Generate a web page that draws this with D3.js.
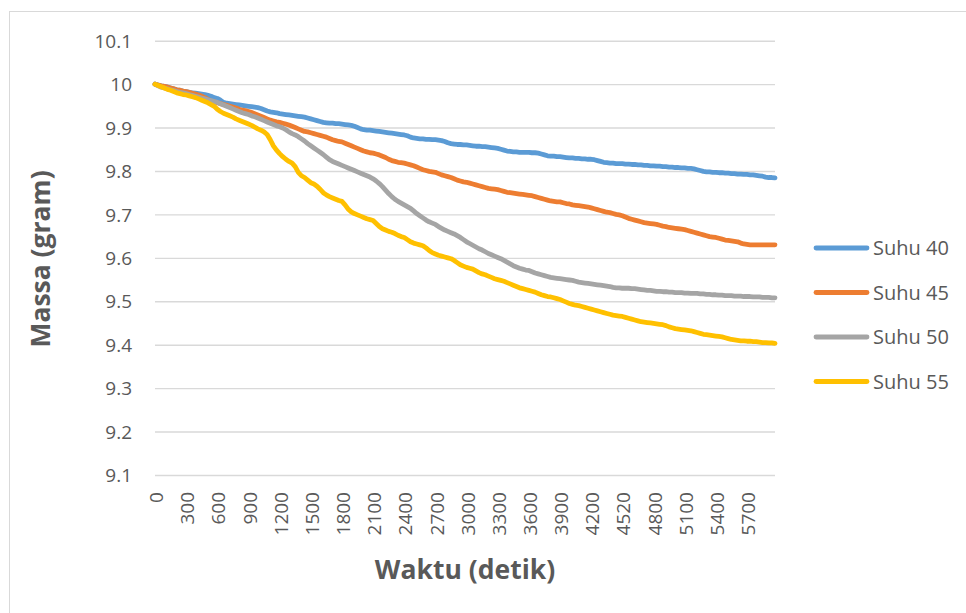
<!DOCTYPE html>
<html><head><meta charset="utf-8">
<script src="https://cdn.jsdelivr.net/npm/d3@7/dist/d3.min.js"></script>
<style>html,body{margin:0;padding:0;background:#fff;}svg{display:block;}</style>
</head><body>
<svg id="c" width="966" height="613"></svg>
<script>
// Time categories (seconds) — 30 s steps; index 150 labelled 4520 in source
const waktu = [
0,30,60,90,120,150,180,210,240,270,
300,330,360,390,420,450,480,510,540,570,
600,630,660,690,720,750,780,810,840,870,
900,930,960,990,1020,1050,1080,1110,1140,1170,
1200,1230,1260,1290,1320,1350,1380,1410,1440,1470,
1500,1530,1560,1590,1620,1650,1680,1710,1740,1770,
1800,1830,1860,1890,1920,1950,1980,2010,2040,2070,
2100,2130,2160,2190,2220,2250,2280,2310,2340,2370,
2400,2430,2460,2490,2520,2550,2580,2610,2640,2670,
2700,2730,2760,2790,2820,2850,2880,2910,2940,2970,
3000,3030,3060,3090,3120,3150,3180,3210,3240,3270,
3300,3330,3360,3390,3420,3450,3480,3510,3540,3570,
3600,3630,3660,3690,3720,3750,3780,3810,3840,3870,
3900,3930,3960,3990,4020,4050,4080,4110,4140,4170,
4200,4230,4260,4290,4320,4350,4380,4410,4440,4470,
4520,4530,4560,4590,4620,4650,4680,4710,4740,4770,
4800,4830,4860,4890,4920,4950,4980,5010,5040,5070,
5100,5130,5160,5190,5220,5250,5280,5310,5340,5370,
5400,5430,5460,5490,5520,5550,5580,5610,5640,5670,
5700,5730,5760,5790,5820,5850,5880,5910,5940,5970
];
const suhu40 = [
10.000,9.998,9.996,9.995,9.993,9.991,9.989,9.987,9.986,9.984,
9.983,9.981,9.980,9.979,9.978,9.977,9.976,9.974,9.972,9.969,
9.967,9.963,9.958,9.956,9.955,9.954,9.953,9.952,9.951,9.950,
9.949,9.948,9.947,9.946,9.944,9.941,9.938,9.936,9.935,9.934,
9.932,9.931,9.930,9.929,9.928,9.927,9.926,9.925,9.924,9.922,
9.920,9.918,9.916,9.914,9.912,9.911,9.910,9.910,9.909,9.909,
9.908,9.907,9.906,9.905,9.903,9.900,9.897,9.895,9.894,9.894,
9.893,9.892,9.891,9.890,9.889,9.888,9.887,9.886,9.885,9.884,
9.883,9.881,9.878,9.876,9.875,9.874,9.874,9.873,9.873,9.872,
9.872,9.871,9.870,9.868,9.865,9.863,9.862,9.861,9.861,9.860,
9.860,9.859,9.858,9.857,9.857,9.856,9.856,9.855,9.854,9.853,
9.852,9.850,9.848,9.846,9.845,9.844,9.844,9.843,9.843,9.843,
9.843,9.842,9.842,9.841,9.839,9.837,9.835,9.834,9.834,9.833,
9.833,9.832,9.831,9.830,9.830,9.829,9.829,9.828,9.828,9.827,
9.827,9.826,9.824,9.822,9.820,9.819,9.818,9.818,9.817,9.817,
9.817,9.816,9.816,9.815,9.815,9.814,9.814,9.813,9.813,9.812,
9.812,9.811,9.811,9.810,9.810,9.809,9.809,9.808,9.808,9.807,
9.807,9.806,9.806,9.805,9.803,9.801,9.799,9.798,9.798,9.797,
9.797,9.796,9.796,9.795,9.795,9.794,9.794,9.793,9.793,9.792,
9.792,9.791,9.791,9.790,9.789,9.788,9.786,9.785,9.785,9.784
];
const suhu45 = [
10.000,9.998,9.996,9.995,9.993,9.991,9.989,9.987,9.986,9.984,
9.983,9.981,9.979,9.977,9.975,9.972,9.969,9.965,9.961,9.959,
9.957,9.955,9.953,9.951,9.949,9.947,9.945,9.942,9.940,9.939,
9.937,9.935,9.932,9.929,9.926,9.923,9.920,9.917,9.915,9.913,
9.912,9.910,9.908,9.906,9.903,9.900,9.897,9.894,9.891,9.890,
9.888,9.886,9.884,9.882,9.880,9.878,9.875,9.872,9.870,9.868,
9.867,9.864,9.861,9.858,9.855,9.852,9.849,9.846,9.844,9.842,
9.841,9.839,9.837,9.834,9.831,9.827,9.824,9.822,9.820,9.819,
9.818,9.816,9.814,9.812,9.809,9.806,9.803,9.801,9.799,9.798,
9.797,9.794,9.791,9.789,9.787,9.785,9.782,9.779,9.777,9.775,
9.774,9.772,9.770,9.768,9.766,9.764,9.762,9.760,9.759,9.758,
9.757,9.755,9.753,9.751,9.750,9.749,9.748,9.747,9.746,9.745,
9.744,9.743,9.741,9.739,9.737,9.735,9.733,9.731,9.730,9.729,
9.729,9.727,9.725,9.724,9.722,9.721,9.720,9.719,9.718,9.717,
9.715,9.713,9.711,9.709,9.707,9.705,9.704,9.702,9.700,9.699,
9.697,9.694,9.691,9.689,9.687,9.685,9.683,9.681,9.680,9.679,
9.678,9.677,9.675,9.673,9.672,9.670,9.669,9.668,9.667,9.666,
9.665,9.663,9.661,9.659,9.657,9.655,9.653,9.651,9.649,9.648,
9.647,9.645,9.643,9.641,9.640,9.639,9.638,9.637,9.634,9.632,
9.631,9.630,9.630,9.630,9.630,9.630,9.630,9.630,9.630,9.630
];
const suhu50 = [
10.000,9.996,9.993,9.991,9.989,9.987,9.985,9.983,9.981,9.980,
9.978,9.976,9.974,9.972,9.970,9.968,9.966,9.964,9.962,9.960,
9.958,9.955,9.952,9.949,9.946,9.943,9.940,9.937,9.934,9.932,
9.930,9.927,9.925,9.922,9.919,9.916,9.913,9.910,9.907,9.904,
9.902,9.899,9.895,9.890,9.886,9.883,9.879,9.874,9.869,9.863,
9.858,9.853,9.848,9.843,9.838,9.832,9.826,9.822,9.819,9.816,
9.813,9.810,9.807,9.804,9.801,9.798,9.795,9.792,9.789,9.786,
9.782,9.777,9.771,9.764,9.756,9.748,9.741,9.735,9.730,9.726,
9.722,9.718,9.714,9.708,9.702,9.697,9.692,9.687,9.683,9.680,
9.677,9.672,9.668,9.664,9.661,9.658,9.655,9.651,9.647,9.642,
9.637,9.633,9.629,9.625,9.621,9.618,9.614,9.610,9.607,9.604,
9.601,9.598,9.594,9.590,9.586,9.582,9.579,9.576,9.574,9.572,
9.571,9.568,9.565,9.563,9.561,9.559,9.557,9.555,9.554,9.553,
9.552,9.551,9.550,9.549,9.548,9.546,9.544,9.543,9.542,9.541,
9.540,9.539,9.538,9.537,9.536,9.535,9.534,9.532,9.531,9.531,
9.530,9.530,9.530,9.529,9.529,9.528,9.527,9.526,9.525,9.525,
9.524,9.523,9.523,9.522,9.522,9.521,9.521,9.520,9.520,9.520,
9.519,9.519,9.518,9.518,9.518,9.517,9.517,9.516,9.516,9.515,
9.515,9.514,9.514,9.513,9.513,9.513,9.512,9.512,9.512,9.511,
9.511,9.511,9.510,9.510,9.510,9.509,9.509,9.509,9.508,9.508
];
const suhu55 = [
10.000,9.997,9.994,9.991,9.988,9.986,9.983,9.980,9.978,9.976,
9.975,9.973,9.971,9.969,9.966,9.963,9.960,9.957,9.953,9.949,
9.942,9.937,9.933,9.930,9.927,9.924,9.920,9.917,9.914,9.911,
9.908,9.905,9.901,9.897,9.894,9.890,9.884,9.872,9.858,9.848,
9.840,9.833,9.827,9.822,9.818,9.810,9.797,9.789,9.785,9.779,
9.773,9.770,9.765,9.758,9.750,9.745,9.741,9.738,9.735,9.732,
9.730,9.722,9.712,9.706,9.702,9.699,9.696,9.693,9.690,9.688,
9.686,9.679,9.672,9.667,9.664,9.661,9.659,9.656,9.652,9.649,
9.647,9.642,9.637,9.634,9.632,9.630,9.628,9.623,9.617,9.612,
9.609,9.606,9.604,9.602,9.600,9.598,9.594,9.589,9.584,9.581,
9.578,9.576,9.574,9.570,9.566,9.563,9.561,9.558,9.555,9.552,
9.550,9.548,9.546,9.543,9.540,9.537,9.534,9.531,9.529,9.527,
9.525,9.523,9.521,9.518,9.515,9.513,9.511,9.510,9.508,9.506,
9.504,9.501,9.498,9.495,9.493,9.491,9.490,9.488,9.486,9.484,
9.482,9.480,9.478,9.476,9.474,9.472,9.470,9.468,9.467,9.466,
9.465,9.463,9.461,9.459,9.457,9.455,9.453,9.452,9.451,9.450,
9.449,9.448,9.447,9.446,9.444,9.441,9.439,9.437,9.436,9.435,
9.434,9.433,9.432,9.430,9.428,9.426,9.424,9.423,9.422,9.421,
9.420,9.419,9.418,9.416,9.414,9.412,9.411,9.410,9.409,9.409,
9.408,9.408,9.407,9.407,9.406,9.405,9.405,9.404,9.404,9.403
];
const seriesNames = ["Suhu 40","Suhu 45","Suhu 50","Suhu 55"];
const seriesColors = ["#5b9bd5","#ed7d31","#a5a5a5","#ffc000"];
const yTicks = [9.1,9.2,9.3,9.4,9.5,9.6,9.7,9.8,9.9,10,10.1];
const xTickEvery = 10;
const xTitle = "Waktu (detik)";
const yTitle = "Massa (gram)";

(function(){
const seriesData = [suhu40, suhu45, suhu50, suhu55];
const svg = d3.select("#c");
const font = "'Open Sans', 'Noto Sans', sans-serif";
const pL = 155, pR = 775, pT = 40.7, pB = 475;
const tickFs = "19px";

// chart frame
svg.append("rect").attr("x",9.5).attr("y",11.5).attr("width",1000).attr("height",700)
  .attr("fill","#fff").attr("stroke","#d9d9d9").attr("stroke-width",1);

const x = d3.scalePoint().domain(d3.range(waktu.length)).range([pL,pR]);
const y = d3.scaleLinear().domain([9.1,10.1]).range([pB,pT]);

// gridlines + y labels
const yAxis = d3.axisLeft(y).tickValues(yTicks).tickSize(-(pR-pL)).tickPadding(23)
  .tickFormat(d => String(+d.toFixed(1)));
const gy = svg.append("g").attr("transform",`translate(${pL},0)`).call(yAxis);
gy.select(".domain").remove();
gy.selectAll(".tick line").attr("stroke","#d9d9d9").attr("stroke-width",1.4);
gy.selectAll(".tick text").attr("fill","#595959").style("font-family",font).style("font-size",tickFs)
  .attr("dy","0.35em");

// x axis labels
const xAxis = d3.axisBottom(x).tickValues(d3.range(0,waktu.length,xTickEvery))
  .tickSize(0).tickFormat(i => waktu[i]);
const gx = svg.append("g").attr("transform",`translate(0,${pB})`).call(xAxis);
gx.select(".domain").remove();
gx.selectAll(".tick text").attr("fill","#595959").style("font-family",font).style("font-size",tickFs)
  .attr("text-anchor","end").attr("transform","rotate(-90)")
  .attr("x",-17).attr("y",1).attr("dy","0.35em");

// lines
const line = d3.line().x((d,i)=>x(i)).y(d=>y(d)).curve(d3.curveLinear);
seriesData.forEach((s,k)=>{
  svg.append("path").datum(s).attr("d",line).attr("fill","none")
    .attr("stroke",seriesColors[k]).attr("stroke-width",4.8)
    .attr("stroke-linejoin","round").attr("stroke-linecap","round");
});

// titles
svg.append("text").attr("x",465).attr("y",579).attr("text-anchor","middle")
  .attr("fill","#595959").style("font-family",font).style("font-weight","bold").style("font-size","26.5px")
  .text(xTitle);
svg.append("text").attr("transform","translate(50,259) rotate(-90)").attr("text-anchor","middle")
  .attr("fill","#595959").style("font-family",font).style("font-weight","bold").style("font-size","26.5px")
  .text(yTitle);

// legend
const lg = svg.append("g");
seriesNames.forEach((n,k)=>{
  const yy = 248 + k*44.5;
  lg.append("line").attr("x1",816).attr("x2",867).attr("y1",yy).attr("y2",yy)
    .attr("stroke",seriesColors[k]).attr("stroke-width",4.8).attr("stroke-linecap","round");
  lg.append("text").attr("x",873).attr("y",yy).attr("dy","0.35em")
    .attr("fill","#595959").style("font-family",font).style("font-size","20px").text(n);
});
})();
</script>
</body></html>
